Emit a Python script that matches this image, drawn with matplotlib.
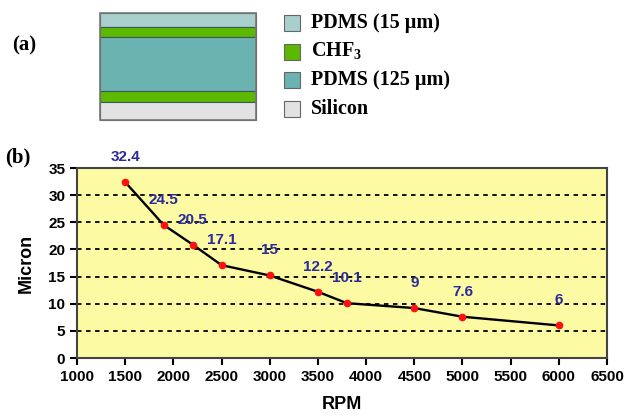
import matplotlib
matplotlib.use('Agg')
from matplotlib import pyplot as plt
from matplotlib.patches import Rectangle

plt.rcParams['mathtext.fontset'] = 'custom'
plt.rcParams['mathtext.rm'] = 'Liberation Serif'
plt.rcParams['mathtext.bf'] = 'Liberation Serif:bold'

# spin-coating data
rpm = [1500, 1900, 2200, 2500, 3000, 3500, 3800, 4500, 5000, 6000]
micron = [32.4, 24.5, 20.9, 17.1, 15.2, 12.2, 10.1, 9.2, 7.6, 6.0]
value_labels = ['32.4', '24.5', '20.5', '17.1', '15', '12.2', '10.1', '9', '7.6', '6']

# layer stack, top to bottom (colours, relative thickness)
layer_colors = ['#a9cfcd', '#5cb800', '#6ab3b1', '#5cb800', '#e2e2e2']
layer_thick = [14, 10, 54, 11, 18]
legend_names = ['PDMS (15 µm)', 'CHF$_\\mathbf{3}$', 'PDMS (125 µm)', 'Silicon']
legend_colors = ['#a9cfcd', '#5cb800', '#6ab3b1', '#e2e2e2']

fig = plt.figure(figsize=(6.26, 4.17), dpi=100)

# ---- panel (a): layer diagram, drawn in pixel space
axa = fig.add_axes([0, 0, 1, 1])
axa.set_xlim(0, 626)
axa.set_ylim(417, 0)
axa.axis('off')
axa.text(12, 45, '(a)', fontsize=15, fontweight='bold', family='Liberation Serif', va='center')
y = 13
for c, t in zip(layer_colors, layer_thick):
    axa.add_patch(Rectangle((100, y), 156, t, facecolor=c, edgecolor='#3a5a5a', lw=0.8))
    y += t
axa.add_patch(Rectangle((100, 13), 156, y - 13, fill=False, edgecolor='#777777', lw=1.2))
for i, (n, c) in enumerate(zip(legend_names, legend_colors)):
    yc = 23 + i * 28.5
    axa.add_patch(Rectangle((284, yc - 8), 16, 16, facecolor=c, edgecolor='#666666', lw=0.8))
    axa.text(311, yc, n, fontsize=14.5, fontweight='bold', family='Liberation Serif', va='center')
axa.text(5, 157, '(b)', fontsize=15, fontweight='bold', family='Liberation Serif', va='center')

# ---- panel (b): thickness vs spin speed
ax = fig.add_axes([77 / 626, 1 - 358 / 417, 530 / 626, 190 / 417])
ax.set_facecolor('#fcfaa2')
for yy in range(5, 35, 5):
    ax.axhline(yy, color='black', ls=(0, (2.5, 2.5)), lw=1.3, zorder=1)
ax.plot(rpm, micron, color='black', lw=1.7, zorder=2)
ax.plot(rpm, micron, 'o', color='#ff1010', ms=4.5, zorder=3)
for x, v, s in zip(rpm, micron, value_labels):
    ax.annotate(s, (x, v), xytext=(0, 18), textcoords='offset points', ha='center', va='center',
                color='#2a2a9a', fontsize=11, fontweight='bold', family='Liberation Sans',
                annotation_clip=False)
ax.set_xlim(1000, 6500)
ax.set_ylim(0, 35)
ax.set_xticks(range(1000, 6501, 500))
ax.set_yticks(range(0, 36, 5))
for sp in ax.spines.values():
    sp.set_color('#444444')
    sp.set_linewidth(1.5)
ax.tick_params(direction='out', length=5, width=1.5, colors='black', labelsize=11)
for lab in ax.get_xticklabels() + ax.get_yticklabels():
    lab.set_fontweight('bold')
    lab.set_family('Liberation Sans')
ax.set_xlabel('RPM', fontsize=13, fontweight='bold', family='Liberation Sans', labelpad=9)
ax.set_ylabel('Micron', fontsize=13, fontweight='bold', family='Liberation Sans', labelpad=10)

fig.savefig('out.png', dpi=100)
